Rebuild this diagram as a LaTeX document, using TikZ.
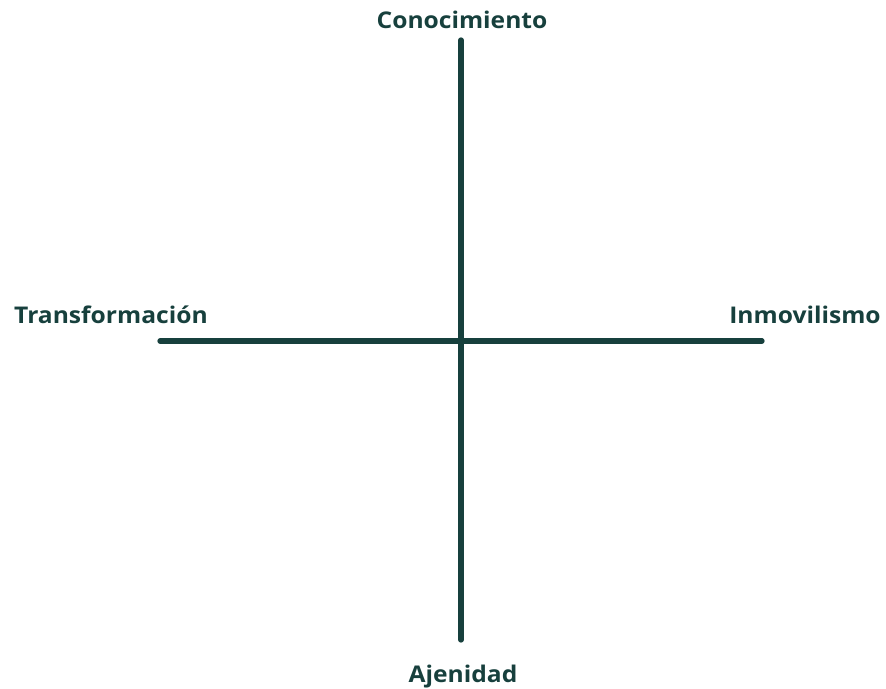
\documentclass[tikz,border=0pt]{standalone}
\usepackage{fontspec}
\setmainfont{Open Sans}
\definecolor{axiscol}{HTML}{17403D}
\tikzset{
  axis/.style={draw=axiscol, line width=5.3pt, line cap=round},
  lbl/.style={text=axiscol, font=\fontsize{23}{27}\selectfont\bfseries, anchor=base, inner sep=0pt, xscale=1.07}
}
\begin{document}
\begin{tikzpicture}[x=1pt,y=-1pt]
\useasboundingbox (0,0) rectangle (886,688);
\coordinate (top) at (461,40);
\coordinate (bot) at (461,640);
\coordinate (left) at (160,341);
\coordinate (right) at (762,341);
\draw[axis] (top) -- (bot);
\draw[axis] (left) -- (right);
\node[lbl] (n) at (462,28) {Conocimiento};
\node[lbl] (w) at (111,323) {Transformación};
\node[lbl] (e) at (805,323) {Inmovilismo};
\node[lbl] (s) at (463,682) {Ajenidad};
\end{tikzpicture}
\end{document}
